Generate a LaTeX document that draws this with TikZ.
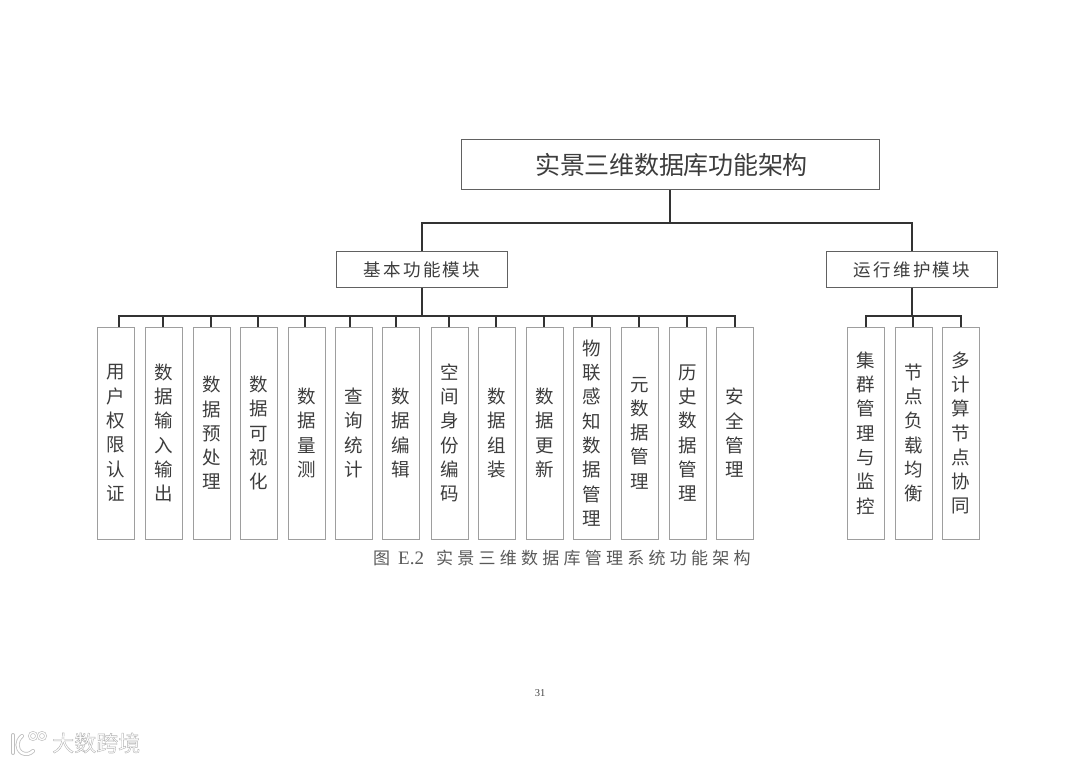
\documentclass[tikz,border=0pt]{standalone}
\usepackage{fontspec}
\setmainfont{Liberation Serif}
\newfontfamily\cjk{Noto Sans CJK SC}
\newfontfamily\cjkTitle[LetterSpace=-1]{Noto Sans CJK SC}
\newfontfamily\cjkMid[LetterSpace=13]{Noto Sans CJK SC}
\newfontfamily\cjkCap[LetterSpace=25]{Noto Sans CJK SC}
\definecolor{boxline}{gray}{0.62}
\definecolor{topline}{gray}{0.38}
\definecolor{conn}{gray}{0.2}
\definecolor{inkc}{gray}{0.24}
\newcommand{\halotext}[1]{\special{pdf:code q 2 Tr 0.4 w 0.7 G 1 g}#1\special{pdf:code Q}}
\tikzset{
  x=1pt,y=-1pt,
  titlebox/.style={draw=topline,line width=1pt,minimum width=418pt,minimum height=50.5pt,inner sep=0pt,text=inkc,font=\cjkTitle\fontsize{25}{25}\selectfont},
  midbox/.style={draw=topline,line width=1pt,minimum width=171pt,minimum height=36pt,inner sep=0pt,text=inkc,font=\cjkMid\fontsize{17.5}{18}\selectfont},
  leafbox/.style={draw=boxline,line width=1pt,minimum width=37pt,minimum height=212pt,inner sep=0pt,text=inkc,align=center,font=\cjk\fontsize{18.5}{24.3}\selectfont},
  conn line/.style={draw=conn,line width=1.6pt},
  captext/.style={text=black!65,inner sep=0pt,font=\cjkCap\fontsize{17}{17}\selectfont},
  wmtext/.style={inner sep=0pt,font=\cjk\fontsize{22}{23}\selectfont},
  logohalo/.style={draw=black!25,line width=4pt,line cap=round},
  logoline/.style={draw=white,line width=2.4pt,line cap=round},
  ringhalo/.style={draw=black!25,line width=2.6pt},
  ringline/.style={draw=white,line width=1.3pt}
}
\begin{document}
\begin{tikzpicture}
\useasboundingbox (0,0) rectangle (1080,763);
% top levels
\node[titlebox] (root) at (670,164.5) {\hspace{3pt}实景三维数据库功能架构};
\node[midbox] (basic) at (422,269.5) {基本功能模块};
\node[midbox] (ops) at (912,269.5) {运行维护模块};
\coordinate (busTop) at (670,223);
\draw[conn line] (root.south) -- (busTop);
\draw[conn line] (basic.north) |- (busTop) -| (ops.north);
% leaf boxes and stubs: box centre / stub x / name / text
\coordinate (busL) at (422,316);
\coordinate (busR) at (912,316);
\foreach \cx/\sx/\nm/\txt in {
 115.5/119/a1/{用\\户\\权\\限\\认\\证},
 163.5/163/a2/{数\\据\\输\\入\\输\\出},
 211.5/211/a3/{数\\据\\预\\处\\理},
 258.5/258/a4/{数\\据\\可\\视\\化},
 306.5/305/a5/{数\\据\\量\\测},
 353.5/350/a6/{查\\询\\统\\计},
 400.5/396/a7/{数\\据\\编\\辑},
 449.5/449/a8/{空\\间\\身\\份\\编\\码},
 496.5/496/a9/{数\\据\\组\\装},
 544.5/544/a10/{数\\据\\更\\新},
 591.5/592/a11/{物\\联\\感\\知\\数\\据\\管\\理},
 639.5/639/a12/{元\\数\\据\\管\\理},
 687.5/687/a13/{历\\史\\数\\据\\管\\理},
 734.5/735/a14/{安\\全\\管\\理}}{
  \node[leafbox] (\nm) at (\cx,433) {\txt};
  \coordinate (stub\nm) at (\sx,316);
  \draw[conn line] (stub\nm) -- (stub\nm |- \nm.north);
}
\foreach \cx/\sx/\nm/\txt in {
 865.5/866/b1/{集\\群\\管\\理\\与\\监\\控},
 913.5/913/b2/{节\\点\\负\\载\\均\\衡},
 960.5/961/b3/{多\\计\\算\\节\\点\\协\\同}}{
  \node[leafbox] (\nm) at (\cx,433) {\txt};
  \coordinate (stub\nm) at (\sx,316);
  \draw[conn line] (stub\nm) -- (stub\nm |- \nm.north);
}
\draw[conn line] (basic.south) -- (busL);
\draw[conn line] (ops.south) -- (busR);
\draw[conn line] ([xshift=-0.8pt]stuba1) -- ([xshift=0.8pt]stuba14);
\draw[conn line] ([xshift=-0.8pt]stubb1) -- ([xshift=0.8pt]stubb3);
% caption and page number
\node[captext,anchor=west] (cap1) at (373,558) {图};
\node[anchor=west,inner sep=0pt,text=black!65,font=\fontsize{19}{19}\selectfont] (cap2) at (398,558) {E.2};
\node[captext,anchor=west] (cap3) at (436,558) {实景三维数据库管理系统功能架构};
\node[inner sep=0pt,text=black!75,font=\fontsize{10.5}{11}\selectfont] (page) at (540,693) {31};
% watermark
\node[wmtext,anchor=west] (wm) at (52,743) {\halotext{大数跨境}};
\foreach \st in {logohalo,logoline}{
  \draw[\st] (13,735) -- (13,753);
  \draw[\st] (22,736) .. controls (16,741) and (16,749) .. (22,753) .. controls (26,755) and (30,754) .. (33,751);
}
\foreach \st in {ringhalo,ringline}{
  \draw[\st] (33,736) circle (3.6);
  \draw[\st] (42,736) circle (3.6);
}
\end{tikzpicture}
\end{document}
